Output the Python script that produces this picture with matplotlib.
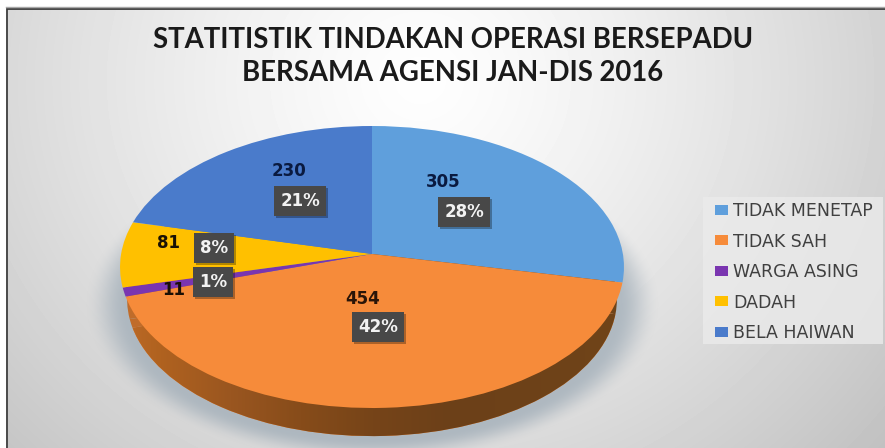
import numpy as np
import matplotlib
matplotlib.use('Agg')
import matplotlib.pyplot as plt
import matplotlib.patheffects as pe
from matplotlib.patches import Rectangle
from matplotlib.transforms import Transform

categories = ['TIDAK MENETAP', 'TIDAK SAH', 'WARGA ASING', 'DADAH', 'BELA HAIWAN']
values = [305, 454, 11, 81, 230]
percents = [28, 42, 1, 8, 21]
colors = ['#5F9FDC', '#F68B3A', '#7A35B0', '#FFC000', '#4A7BCB']
title = 'STATITISTIK TINDAKAN OPERASI BERSEPADU\nBERSAMA AGENSI JAN-DIS 2016'

# label places in pixels (value text, then percent box)
value_pos = [(443, 182), (363, 299), (174, 290), (169, 243), (289, 171)]
value_colors = ['#0A1A40', '#2A1508', '#1A0F05', '#1A1205', '#0A1A40']
box_pos = [(464, 212), (378, 327), (213, 282), (214, 248), (300, 201)]


class Tilt(Transform):
    # unit circle to a pie seen from above, the far side gets squeezed
    input_dims = 2
    output_dims = 2
    is_separable = False
    has_inverse = False

    def __init__(self, scale=1.0, shift=0.0):
        super().__init__()
        self.scale = scale
        self.shift = shift

    def transform_non_affine(self, xy):
        xy = np.asarray(xy, dtype=float)
        w = 1 + 0.0922 * xy[:, 1]
        x = 372 + self.scale * 250.9 * xy[:, 0] / w
        y = 254 + self.shift - self.scale * 139.8 * xy[:, 1] / w
        return np.column_stack([x, y])


fig = plt.figure(figsize=(8.85, 4.48), dpi=100, facecolor='white')
ax = fig.add_axes([0, 0, 1, 1])

# panel background
yy, xx = np.mgrid[9:448, 8:885]
r = np.sqrt(((xx - 420) / 560.0) ** 2 + ((yy - 80) / 520.0) ** 2)
bg = np.clip(254 - 55 * r ** 1.3, 190, 254) / 255.0
ax.imshow(bg, cmap='gray', vmin=0, vmax=1, extent=(8, 885, 448, 9), aspect='auto', zorder=0)

# soft shadow under the pie
yy, xx = np.mgrid[120:448, 80:680]
r = np.sqrt(((xx - 372) / 264.0) ** 2 + ((yy - 304) / 145.0) ** 2)
shadow = np.zeros(r.shape + (4,))
shadow[..., :3] = matplotlib.colors.to_rgb('#A3AFB9')
t = np.clip((1.09 - r) / 0.16, 0, 1)
shadow[..., 3] = 0.8 * t * t * (3 - 2 * t)
ax.imshow(shadow, extent=(80, 680, 448, 120), aspect='auto', zorder=1)

# side wall, same pie moved down a bit
wall, _ = ax.pie(values, colors=colors, startangle=90, counterclock=False,
                 wedgeprops={'linewidth': 0})
for w in wall:
    w.set_transform(Tilt(0.972, 32.4) + ax.transData)
    w.set_zorder(2)
wall[0].set_facecolor('#704419')
wall[2].set_facecolor('#C06C2A')
wall[3].set_facecolor('#C06C2A')

grad_x = [110, 160, 230, 300, 372, 450, 630]
grad_c = ['#C06C2A', '#B0621F', '#9A5620', '#874C1A', '#764418', '#6C4018', '#704419']
grad_rgb = np.array([matplotlib.colors.to_rgb(c) for c in grad_c])
cols = np.arange(100, 640)
wall_img = np.column_stack([np.interp(cols, grad_x, grad_rgb[:, i]) for i in range(3)])[np.newaxis, :, :]
im = ax.imshow(wall_img, extent=(100, 640, 448, 270), aspect='auto', zorder=3)
im.set_clip_path(wall[1])

# top face
top, _ = ax.pie(values, colors=colors, startangle=90, counterclock=False,
                wedgeprops={'linewidth': 0})
for w in top:
    w.set_transform(Tilt() + ax.transData)
    w.set_zorder(4)

ax.set_aspect('auto')
ax.set_xlim(0, 885)
ax.set_ylim(448, 0)
ax.axis('off')

# frame, only top and left are dark
ax.plot([7, 7, 885], [448, 9, 9], color='#3A3A3A', lw=1.3, zorder=6, solid_joinstyle='miter')
ax.plot([6, 885], [7.5, 7.5], color='#A8A8A8', lw=1.0, zorder=6)

ax.text(453, 56.5, title, ha='center', va='center', fontsize=19.8, family='Lato',
        fontweight='bold', color='#1A1A1A', linespacing=1.36, zorder=7)

for i, v in enumerate(values):
    ax.text(value_pos[i][0], value_pos[i][1], str(v), ha='center', va='center', fontsize=12,
            fontweight='bold', color=value_colors[i], zorder=7)
    pct = '{}%'.format(percents[i])
    bx, by = box_pos[i]
    label = ax.text(bx, by, pct, ha='center', va='center', fontsize=12, fontweight='bold', color='#F2F2F2',
                    bbox=dict(boxstyle='square,pad=0.38', fc='#484848', ec='none'), zorder=8)
    label.get_bbox_patch().set_path_effects([pe.withSimplePatchShadow(offset=(1.5, -1.5), shadow_rgbFace='#000000', alpha=0.3)])

ax.add_patch(Rectangle((703, 197), 180, 147, fc='#EBEBEB', ec='none', alpha=0.8, zorder=6))
leg = ax.legend(top, categories, loc='upper left', bbox_to_anchor=(715 / 885.0, 1 - 202 / 448.0),
                bbox_transform=ax.transAxes, frameon=False, fontsize=12.5, labelcolor='#404040',
                handlelength=0.75, handleheight=0.5, handletextpad=0.3, labelspacing=0.72,
                borderpad=0, borderaxespad=0)
leg.set_zorder(7)

fig.savefig('out.png', dpi=100)
